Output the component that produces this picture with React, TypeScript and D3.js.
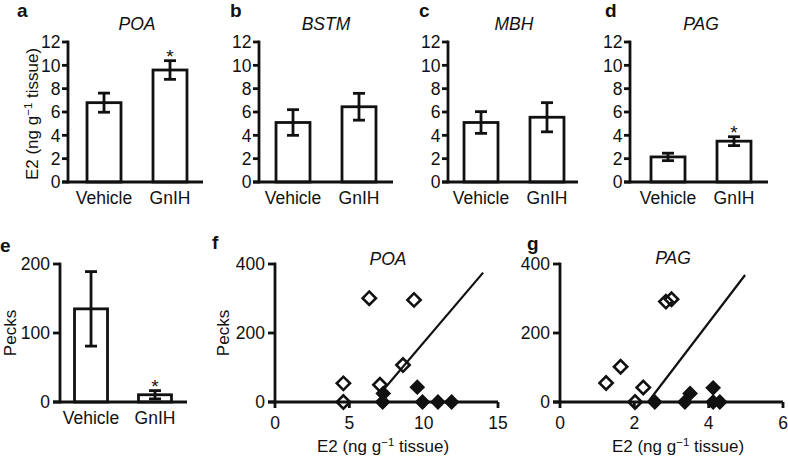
import React from "react";
import * as d3 from "d3";

// ---------- data ----------
const barGroups = ["Vehicle", "GnIH"];
const e2Ticks = [0, 2, 4, 6, 8, 10, 12];
const pecksBarTicks = [0, 100, 200];
const scatterPecksTicks = [0, 200, 400];
const poaE2Ticks = [0, 5, 10, 15];
const pagE2Ticks = [0, 2, 4, 6];

const regionNames = ["POA", "BSTM", "MBH", "PAG"];
const topLetters = ["a", "b", "c", "d"];

const poaMean = [6.8, 9.6];
const poaSem = [0.82, 0.8];
const poaSig = [false, true];
const bstmMean = [5.1, 6.45];
const bstmSem = [1.1, 1.15];
const bstmSig = [false, false];
const mbhMean = [5.1, 5.55];
const mbhSem = [0.93, 1.25];
const mbhSig = [false, false];
const pagMean = [2.15, 3.5];
const pagSem = [0.32, 0.38];
const pagSig = [false, true];

const pecksMean = [135, 10.5];
const pecksSem = [54, 6];
const pecksSig = [false, true];

const poaVehicleE2 = [4.6, 4.6, 7.06, 8.61, 6.34, 9.35];
const poaVehiclePecks = [0, 54, 50, 107, 301, 296];
const poaGnihE2 = [7.24, 7.28, 9.57, 9.92, 10.96, 11.88];
const poaGnihPecks = [0, 25, 43, 0, 0, 0];
const poaFitE2 = [7.28, 14.0];
const poaFitPecks = [35, 375];

const pagVehicleE2 = [1.24, 1.63, 2.24, 2.02, 2.85, 3.0];
const pagVehiclePecks = [55, 102, 42, 0, 291, 298];
const pagGnihE2 = [2.55, 3.36, 3.5, 4.12, 4.12, 4.3];
const pagGnihPecks = [0, 0, 25, 41, 0, 0];
const pagFitE2 = [2.37, 4.98];
const pagFitPecks = [0, 368];

// ---------- style ----------
const FONT = "'Liberation Sans', Arial, Helvetica, sans-serif";
const INK = "#111";
const SW = 2.8;
const FS = 17.5;
const TS = 17;

const E2Label = () => (
  <>
    E2 (ng g
    <tspan dy={-6.5} fontSize={11.5}>
      −1
    </tspan>
    <tspan dy={6.5}> tissue)</tspan>
  </>
);

type BarProps = {
  x0: number;
  off: number;
  span: number;
  axisLen: number;
  pi: number;
  po: number;
  y: d3.ScaleLinear<number, number>;
  ticks: number[];
  tickLen: number;
  labelGap: number;
  means: number[];
  sems: number[];
  sig: boolean[];
  catY: number;
};

function BarPanel(p: BarProps) {
  const x = d3
    .scaleBand<string>()
    .domain(barGroups)
    .range([p.x0 + p.off, p.x0 + p.off + p.span])
    .paddingInner(p.pi)
    .paddingOuter(p.po);
  const y0 = p.y(0);
  const yMax = p.y(p.ticks[p.ticks.length - 1]);
  const bw = x.bandwidth();
  return (
    <g>
      {barGroups.map((g, i) => {
        const bx = x(g)!;
        const cx = bx + bw / 2;
        const top = p.y(p.means[i] + p.sems[i]);
        const bot = p.y(p.means[i] - p.sems[i]);
        return (
          <g key={g}>
            <rect
              x={bx}
              y={p.y(p.means[i])}
              width={bw}
              height={y0 - p.y(p.means[i])}
              fill="#fff"
              stroke={INK}
              strokeWidth={SW}
            />
            <line x1={cx} x2={cx} y1={top} y2={bot} stroke={INK} strokeWidth={SW} />
            <line x1={cx - 6} x2={cx + 6} y1={top} y2={top} stroke={INK} strokeWidth={SW} />
            <line x1={cx - 6} x2={cx + 6} y1={bot} y2={bot} stroke={INK} strokeWidth={SW} />
            {p.sig[i] && (
              <text x={cx} y={top + 2} textAnchor="middle" fontSize={19} fill={INK}>
                *
              </text>
            )}
            <text x={cx} y={p.catY} textAnchor="middle" fontSize={FS} fill={INK}>
              {g}
            </text>
          </g>
        );
      })}
      <line x1={p.x0} x2={p.x0} y1={y0} y2={yMax} stroke={INK} strokeWidth={SW} strokeLinecap="square" />
      <line x1={p.x0 - p.tickLen} x2={p.x0 + p.axisLen} y1={y0} y2={y0} stroke={INK} strokeWidth={SW} />
      {p.ticks.map((t) => (
        <g key={t}>
          <line x1={p.x0 - p.tickLen} x2={p.x0} y1={p.y(t)} y2={p.y(t)} stroke={INK} strokeWidth={SW} />
          <text
            x={p.x0 - p.labelGap}
            y={p.y(t)}
            dy="0.36em"
            textAnchor="end"
            fontSize={FS}
            fill={INK}
          >
            {t}
          </text>
        </g>
      ))}
    </g>
  );
}

type ScatterProps = {
  x: d3.ScaleLinear<number, number>;
  y: d3.ScaleLinear<number, number>;
  xTicks: number[];
  yTicks: number[];
  openX: number[];
  openY: number[];
  fillX: number[];
  fillY: number[];
  fitX: number[];
  fitY: number[];
};

const diamond = d3.symbol(d3.symbolSquare, 88)()!;

function ScatterPanel(p: ScatterProps) {
  const x0 = p.x(0);
  const y0 = p.y(0);
  const xMax = p.x(p.xTicks[p.xTicks.length - 1]);
  const yMax = p.y(p.yTicks[p.yTicks.length - 1]);
  const line = d3
    .line<number>()
    .x((_, i) => p.x(p.fitX[i]))
    .y((d) => p.y(d));
  return (
    <g>
      {p.openX.map((v, i) => (
        <path
          key={"o" + i}
          d={diamond}
          transform={`translate(${p.x(v)},${p.y(p.openY[i])}) rotate(45)`}
          fill="none"
          stroke={INK}
          strokeWidth={2.6}
        />
      ))}
      {p.fillX.map((v, i) => (
        <path
          key={"f" + i}
          d={diamond}
          transform={`translate(${p.x(v)},${p.y(p.fillY[i])}) rotate(45)`}
          fill={INK}
          stroke={INK}
          strokeWidth={1.8}
        />
      ))}
      <path d={line(p.fitY)!} fill="none" stroke={INK} strokeWidth={2.2} />
      <line x1={x0} x2={x0} y1={y0} y2={yMax} stroke={INK} strokeWidth={SW} strokeLinecap="square" />
      <line x1={x0 - 7} x2={xMax} y1={y0} y2={y0} stroke={INK} strokeWidth={SW} />
      {p.yTicks.map((t) => (
        <g key={"y" + t}>
          <line x1={x0 - 7} x2={x0} y1={p.y(t)} y2={p.y(t)} stroke={INK} strokeWidth={SW} />
          <text x={x0 - 10} y={p.y(t)} dy="0.36em" textAnchor="end" fontSize={FS} fill={INK}>
            {t}
          </text>
        </g>
      ))}
      {p.xTicks.map((t) => (
        <g key={"x" + t}>
          <line x1={p.x(t)} x2={p.x(t)} y1={y0} y2={y0 + 6} stroke={INK} strokeWidth={SW} />
          <text x={p.x(t)} y={429} textAnchor="middle" fontSize={FS} fill={INK}>
            {t}
          </text>
        </g>
      ))}
    </g>
  );
}

export default function App() {
  const yTop = d3.scaleLinear().domain([0, 12]).range([182, 42]);
  const yPecksBar = d3.scaleLinear().domain([0, 200]).range([402, 264]);
  const yScatter = d3.scaleLinear().domain([0, 400]).range([402, 264]);
  const xPoa = d3.scaleLinear().domain([0, 15]).range([275, 498]);
  const xPag = d3.scaleLinear().domain([0, 6]).range([560, 783]);

  const topMeans = [poaMean, bstmMean, mbhMean, pagMean];
  const topSems = [poaSem, bstmSem, mbhSem, pagSem];
  const topSig = [poaSig, bstmSig, mbhSig, pagSig];
  const topX0 = [68, 259, 448, 630];
  const topOff = [1, -1, -2, 3];
  const topAxisLen = [135, 134, 130, 138];
  const letterX = [17, 230, 419, 605];

  return (
    <div style={{ position: "fixed", left: 0, top: 0, background: "#fff" }}>
      <svg width={788} height={457} fontFamily={FONT} style={{ display: "block" }}>
        <rect width={788} height={457} fill="#fff" />
        {topX0.map((x0, k) => (
          <g key={k}>
            <BarPanel
              x0={x0}
              off={topOff[k]}
              span={136}
              axisLen={topAxisLen[k]}
              pi={0.485}
              po={0.273}
              y={yTop}
              ticks={e2Ticks}
              tickLen={6}
              labelGap={7.5}
              means={topMeans[k]}
              sems={topSems[k]}
              sig={topSig[k]}
              catY={204}
            />
            <text
              x={x0 + topOff[k] + 68}
              y={30}
              textAnchor="middle"
              fontStyle="italic"
              fontSize={FS}
              fill={INK}
            >
              {regionNames[k]}
            </text>
            <text x={letterX[k]} y={17} fontSize={19} fontWeight="bold" fill={INK}>
              {topLetters[k]}
            </text>
          </g>
        ))}
        <text
          transform="translate(38,114) rotate(-90)"
          textAnchor="middle"
          fontSize={TS}
          fill={INK}
        >
          <E2Label />
        </text>

        {/* e */}
        <BarPanel
          x0={60}
          off={0}
          span={126}
          axisLen={127}
          pi={0.484}
          po={0.227}
          y={yPecksBar}
          ticks={pecksBarTicks}
          tickLen={7}
          labelGap={10}
          means={pecksMean}
          sems={pecksSem}
          sig={pecksSig}
          catY={424}
        />
        <text x={0} y={252} fontSize={19} fontWeight="bold" fill={INK}>
          e
        </text>
        <text transform="translate(16,333) rotate(-90)" textAnchor="middle" fontSize={TS} fill={INK}>
          Pecks
        </text>

        {/* f */}
        <ScatterPanel
          x={xPoa}
          y={yScatter}
          xTicks={poaE2Ticks}
          yTicks={scatterPecksTicks}
          openX={poaVehicleE2}
          openY={poaVehiclePecks}
          fillX={poaGnihE2}
          fillY={poaGnihPecks}
          fitX={poaFitE2}
          fitY={poaFitPecks}
        />
        <text x={212} y={249} fontSize={19} fontWeight="bold" fill={INK}>
          f
        </text>
        <text x={388} y={265} textAnchor="middle" fontStyle="italic" fontSize={FS} fill={INK}>
          POA
        </text>
        <text transform="translate(229,333) rotate(-90)" textAnchor="middle" fontSize={TS} fill={INK}>
          Pecks
        </text>
        <text x={383} y={452} textAnchor="middle" fontSize={TS} fill={INK}>
          <E2Label />
        </text>

        {/* g */}
        <ScatterPanel
          x={xPag}
          y={yScatter}
          xTicks={pagE2Ticks}
          yTicks={scatterPecksTicks}
          openX={pagVehicleE2}
          openY={pagVehiclePecks}
          fillX={pagGnihE2}
          fillY={pagGnihPecks}
          fitX={pagFitE2}
          fitY={pagFitPecks}
        />
        <text x={527} y={250} fontSize={19} fontWeight="bold" fill={INK}>
          g
        </text>
        <text x={673} y={264} textAnchor="middle" fontStyle="italic" fontSize={FS} fill={INK}>
          PAG
        </text>
        <text x={678} y={452} textAnchor="middle" fontSize={TS} fill={INK}>
          <E2Label />
        </text>
      </svg>
    </div>
  );
}
